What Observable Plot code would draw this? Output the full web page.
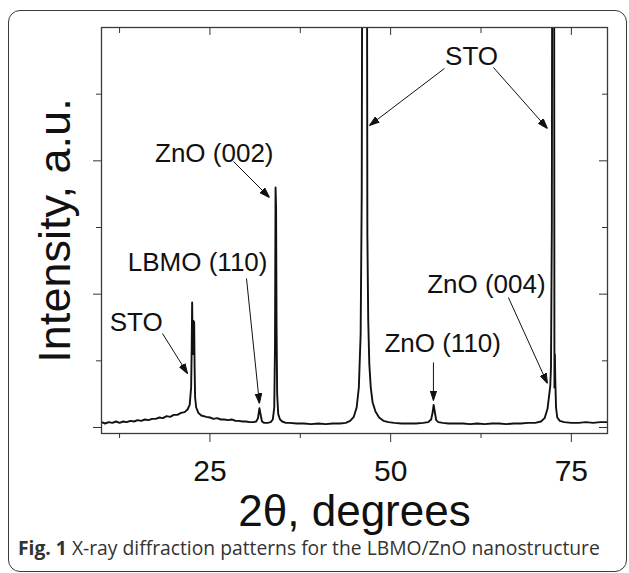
<!DOCTYPE html>
<html><head><meta charset="utf-8">
<script src="https://cdn.jsdelivr.net/npm/d3@7"></script>
<script src="https://cdn.jsdelivr.net/npm/@observablehq/plot@0.6"></script>
<style>
body{margin:0;background:#fff;}
#wrap{position:relative;width:629px;height:573px;overflow:hidden;background:#fff}
#box{position:absolute;left:8px;top:10px;width:617px;height:560px;border:1.6px solid #3a3a3a;border-radius:12px;z-index:2;pointer-events:none}
#chart{position:absolute;left:0;top:0;z-index:1}
#cap{position:absolute;left:18px;top:536px;font-family:"Open Sans",sans-serif;font-size:19.3px;line-height:24px;color:#333;white-space:nowrap;z-index:3}
</style></head><body>
<div id="wrap"><div id="chart"></div><div id="box"></div><div id="cap"><b>Fig. 1</b> X-ray diffraction patterns for the LBMO/ZnO nanostructure</div></div>
<script>
// XRD pattern (2θ in degrees, intensity in arbitrary units)
const twoTheta = [10.0,10.5,11.0,11.5,12.0,12.5,13.0,13.5,14.0,14.5,15.0,15.5,16.0,16.5,17.0,17.5,18.0,18.5,19.0,19.5,20.0,20.5,21.0,21.5,21.9,22.2,22.4,22.48,22.54,22.6,22.66,22.72,22.82,22.88,22.95,23.1,23.4,23.8,24.5,25.0,25.5,26.0,26.5,27.0,27.5,28.0,28.3,28.5,29.0,29.5,30.0,30.5,31.0,31.4,31.65,31.85,32.0,32.2,32.5,33.0,33.4,33.7,33.9,34.0,34.08,34.15,34.22,34.3,34.45,34.7,35.0,35.5,36.0,37.0,38.0,39.0,40.0,41.0,42.0,43.0,43.8,44.4,44.9,45.3,45.6,45.85,46.0,46.08,46.3,46.55,46.72,46.78,46.9,47.05,47.25,47.5,47.9,48.4,49.0,49.7,50.5,51.5,52.5,53.5,54.5,55.2,55.6,55.8,55.95,56.1,56.3,56.6,57.2,58.0,59.0,60.0,61.0,62.0,63.0,64.0,65.0,66.0,67.0,68.0,69.0,70.0,70.8,71.3,71.7,71.95,72.08,72.18,72.3,72.38,72.5,72.6,72.66,72.72,72.78,72.88,73.05,73.4,74.0,75.0,76.0,77.0,78.0,79.0,80.0];
const intensity = [0.08,0.06,0.08,0.07,0.09,0.07,0.09,0.08,0.10,0.09,0.11,0.10,0.12,0.11,0.13,0.13,0.15,0.14,0.17,0.16,0.19,0.19,0.22,0.23,0.27,0.34,0.6,1.2,1.875,1.3,1.1,1.6,1.58,0.9,0.45,0.3,0.22,0.18,0.16,0.15,0.13,0.14,0.12,0.12,0.11,0.12,0.11,0.10,0.10,0.09,0.09,0.08,0.08,0.09,0.14,0.29,0.2,0.09,0.07,0.07,0.08,0.12,0.3,1.2,3.6,3.3,1.5,0.5,0.2,0.12,0.09,0.07,0.07,0.06,0.06,0.05,0.06,0.05,0.06,0.06,0.07,0.1,0.16,0.3,0.6,1.4,3.5,8,40,40,8,2.9,1.6,0.95,0.6,0.38,0.24,0.15,0.1,0.08,0.07,0.06,0.06,0.06,0.07,0.08,0.12,0.22,0.34,0.24,0.11,0.08,0.07,0.06,0.06,0.06,0.05,0.06,0.05,0.06,0.06,0.05,0.06,0.06,0.07,0.07,0.09,0.14,0.28,0.5,0.62,0.9,3,10,40,10,0.6,1.1,0.7,0.3,0.15,0.1,0.08,0.07,0.07,0.08,0.07,0.08,0.08];

// axis ticks
const xTickLabels = [25, 50, 75];
const xMinorTicks = [12.5, 37.5, 62.5];
const yMajorTicks = [0, 2, 4];
const yMinorTicks = [1, 3, 5];

// peak annotations
const labelText = ["STO", "ZnO (002)", "LBMO (110)", "STO", "ZnO (110)", "ZnO (004)"];
const labelX = [61.2, 25.6, 23.3, 14.8, 57.2, 63.25];
const labelY = [5.565, 4.11, 2.47, 1.57, 1.26, 2.145];
const arrowX1 = [57.44, 64.22, 28.26, 30.06, 18.44, 55.92, 66.29];
const arrowY1 = [5.385, 5.4, 3.99, 2.235, 1.41, 0.975, 1.95];
const arrowX2 = [47.07, 71.69, 33.24, 31.85, 21.9, 55.92, 71.69];
const arrowY2 = [4.53, 4.485, 3.45, 0.36, 0.81, 0.405, 0.66];

const pattern = twoTheta.map((t, i) => ({t, v: intensity[i]}));
const labels = labelText.map((s, i) => ({s, x: labelX[i], y: labelY[i]}));
const arrows = arrowX1.map((x1, i) => ({x1, y1: arrowY1[i], x2: arrowX2[i], y2: arrowY2[i]}));

const W = 629, Hsvg = 535, mt = 27, mb = 102, ml = 101, mr = 22;
const PW = W - ml - mr, PH = Hsvg - mt - mb;
const FONT = "'Liberation Sans', Arial, Helvetica, sans-serif";
const NS = "http://www.w3.org/2000/svg";

function headMarker(color, context) {
  const doc = (context && context.document) || document;
  const m = doc.createElementNS(NS, "marker");
  m.setAttribute("viewBox", "-10 -4 10 8");
  m.setAttribute("markerWidth", "10");
  m.setAttribute("markerHeight", "8");
  m.setAttribute("markerUnits", "userSpaceOnUse");
  m.setAttribute("orient", "auto");
  m.setAttribute("refX", "0");
  m.setAttribute("refY", "0");
  const p = doc.createElementNS(NS, "path");
  p.setAttribute("d", "M0,0L-10,-3.3L-10,3.3Z");
  p.setAttribute("fill", color);
  m.appendChild(p);
  return m;
}

function build(marker) {
  const tc = "#333";
  const txt = {fontFamily: FONT, fill: "#111", lineAnchor: "middle", textAnchor: "middle"};
  return Plot.plot({
    width: W, height: Hsvg,
    marginTop: mt, marginBottom: mb, marginLeft: ml, marginRight: mr,
    style: {background: "transparent", fontFamily: FONT, overflow: "visible"},
    x: {domain: [10, 80], axis: null},
    y: {domain: [-0.09, 6], axis: null},
    marks: [
      Plot.line(pattern, {x: "t", y: "v", stroke: "#111", strokeWidth: 1.9, clip: true}),
      Plot.frame({stroke: "#3a3a3a", strokeWidth: 1.3}),
      // bottom ticks (outward)
      Plot.tickX(xTickLabels, {x: d => d, insetTop: PH, insetBottom: -9, stroke: tc}),
      Plot.tickX(xMinorTicks, {x: d => d, insetTop: PH, insetBottom: -5, stroke: tc}),
      // top ticks (inward)
      Plot.tickX(xTickLabels, {x: d => d, insetBottom: PH - 8, stroke: tc}),
      Plot.tickX(xMinorTicks, {x: d => d, insetBottom: PH - 6, stroke: tc}),
      // left ticks (outward)
      Plot.tickY(yMajorTicks, {y: d => d, insetLeft: -8, insetRight: PW, stroke: tc}),
      Plot.tickY(yMinorTicks, {y: d => d, insetLeft: -5, insetRight: PW, stroke: tc}),
      // right ticks (inward)
      Plot.tickY(yMajorTicks, {y: d => d, insetLeft: PW - 8, stroke: tc}),
      Plot.tickY(yMinorTicks, {y: d => d, insetLeft: PW - 5, stroke: tc}),
      // tick labels
      Plot.text(xTickLabels, {...txt, x: d => d, text: d => String(d), frameAnchor: "bottom", dy: 38, fontSize: 30}),
      // axis titles
      Plot.text(["2θ, degrees"], {...txt, frameAnchor: "bottom", dy: 78, fontSize: 44}),
      Plot.text(["Intensity, a.u."], {...txt, frameAnchor: "left", dx: -46, rotate: -90, fontSize: 45}),
      // annotations
      Plot.text(labels, {...txt, x: "x", y: "y", text: "s", fontSize: 26}),
      Plot.link(arrows, {x1: "x1", y1: "y1", x2: "x2", y2: "y2", stroke: "#111", strokeWidth: 1, markerEnd: marker})
    ]
  });
}

let chart;
try { chart = build(headMarker); } catch (e) { chart = build("arrow"); }
document.getElementById("chart").appendChild(chart);
</script>
</body></html>
